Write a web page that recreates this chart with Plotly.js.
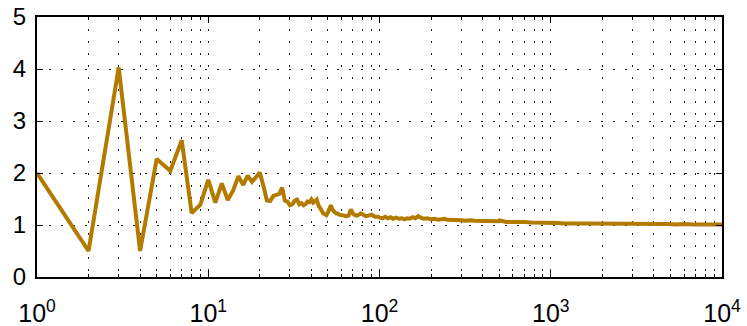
<!DOCTYPE html>
<html>
<head>
<meta charset="utf-8">
<script src="https://cdn.plot.ly/plotly-3.0.1.min.js"></script>
<style>html,body{margin:0;padding:0;background:#fff;}#chart{width:747px;height:326px;}</style>
</head>
<body>
<div id="chart"></div>
<script>
// x positions (index n) and ratio values
const nValues = [
  1,2,3,4,5,6,7,8,9,10,
  11,12,13,14,15,16,17,18,19,20,
  21,22,23,24,25,26,27,28,29,30,
  31,32,33,34,35,36,37,38,39,40,
  41,42,43,44,45,46,47,48,49,50,
  51,52,53,54,55,56,57,58,59,60,
  62,64,66,68,70,72,74,76,78,80,
  83,86,90,94,98,100,104,108,112,116,
  120,125,130,135,140,145,150,156,162,168,
  174,180,190,200,210,220,230,240,250,265,
  280,300,320,340,360,380,400,430,460,490,
  500,520,550,600,650,700,760,820,900,1000,
  1100,1200,1350,1500,1700,1900,2100,2400,2700,3000,
  3400,3800,4300,4800,5400,6000,6800,7600,8500,9300,10000
];
const ratioValues = [
  2.00,0.50,4.03,0.50,2.27,2.04,2.63,1.23,1.39,1.87,
  1.43,1.80,1.48,1.67,1.94,1.77,1.95,1.83,1.92,2.01,
  1.75,1.47,1.46,1.56,1.58,1.60,1.72,1.47,1.45,1.38,
  1.40,1.47,1.49,1.40,1.42,1.38,1.40,1.45,1.44,1.49,
  1.43,1.46,1.49,1.38,1.32,1.27,1.22,1.21,1.19,1.24,
  1.32,1.38,1.30,1.26,1.24,1.22,1.22,1.20,1.19,1.18,
  1.18,1.17,1.18,1.30,1.22,1.19,1.18,1.20,1.22,1.20,
  1.17,1.18,1.20,1.16,1.16,1.14,1.13,1.16,1.13,1.15,
  1.12,1.14,1.12,1.13,1.11,1.13,1.12,1.15,1.13,1.17,
  1.14,1.12,1.13,1.11,1.12,1.10,1.11,1.12,1.10,1.10,
  1.09,1.09,1.08,1.09,1.08,1.08,1.07,1.08,1.07,1.07,
  1.09,1.07,1.06,1.06,1.05,1.06,1.05,1.05,1.04,1.04,
  1.04,1.03,1.04,1.03,1.03,1.03,1.03,1.02,1.03,1.02,
  1.02,1.02,1.02,1.02,1.01,1.02,1.01,1.01,1.01,1.01,1.01
];
const xMajorTicks = [1, 10, 100, 1000, 10000];
const xMajorLabels = ['10<sup>0</sup>', '10<sup>1</sup>', '10<sup>2</sup>', '10<sup>3</sup>', '10<sup>4</sup>'];
const yTicks = [0, 1, 2, 3, 4, 5];

const xMinorTicks = [];
for (let d = 1; d < 10000; d *= 10) {
  for (let k = 2; k <= 9; k++) xMinorTicks.push(k * d);
}

const lineColor = '#b37a00';
const gridDash = '1.5px,10.5px';

Plotly.newPlot('chart', [{
  x: nValues,
  y: ratioValues,
  type: 'scatter',
  mode: 'lines',
  line: {color: lineColor, width: 4},
  hoverinfo: 'skip'
}], {
  width: 747, height: 326,
  margin: {l: 37, r: 25, t: 17, b: 49, pad: 0},
  paper_bgcolor: '#fff', plot_bgcolor: '#fff',
  showlegend: false,
  font: {family: '"Liberation Sans", Arial, sans-serif', size: 24, color: '#000'},
  xaxis: {
    type: 'log',
    range: [0, 4],
    tickmode: 'array',
    tickvals: xMajorTicks,
    ticktext: xMajorLabels,
    ticks: 'inside', ticklen: 6, tickwidth: 1, tickcolor: '#000',
    showline: true, linecolor: '#000', linewidth: 2, mirror: 'ticks',
    showgrid: true, gridcolor: '#222', gridwidth: 1, griddash: gridDash,
    zeroline: false,
    tickfont: {size: 25},
    ticklabelstandoff: 13,
    minor: {
      tickmode: 'array', tickvals: xMinorTicks,
      ticks: 'inside', ticklen: 3, tickwidth: 1, tickcolor: '#000',
      showgrid: true, gridcolor: '#222', gridwidth: 1, griddash: gridDash
    }
  },
  yaxis: {
    range: [0, 5],
    tickmode: 'array',
    tickvals: yTicks,
    ticktext: yTicks.map(String),
    ticks: 'inside', ticklen: 6, tickwidth: 1, tickcolor: '#000',
    showline: true, linecolor: '#000', linewidth: 2, mirror: 'ticks',
    showgrid: true, gridcolor: '#222', gridwidth: 1, griddash: gridDash,
    zeroline: false,
    tickfont: {size: 24},
    ticklabelstandoff: 4
  }
}, {staticPlot: true, displayModeBar: false});
</script>
</body>
</html>
